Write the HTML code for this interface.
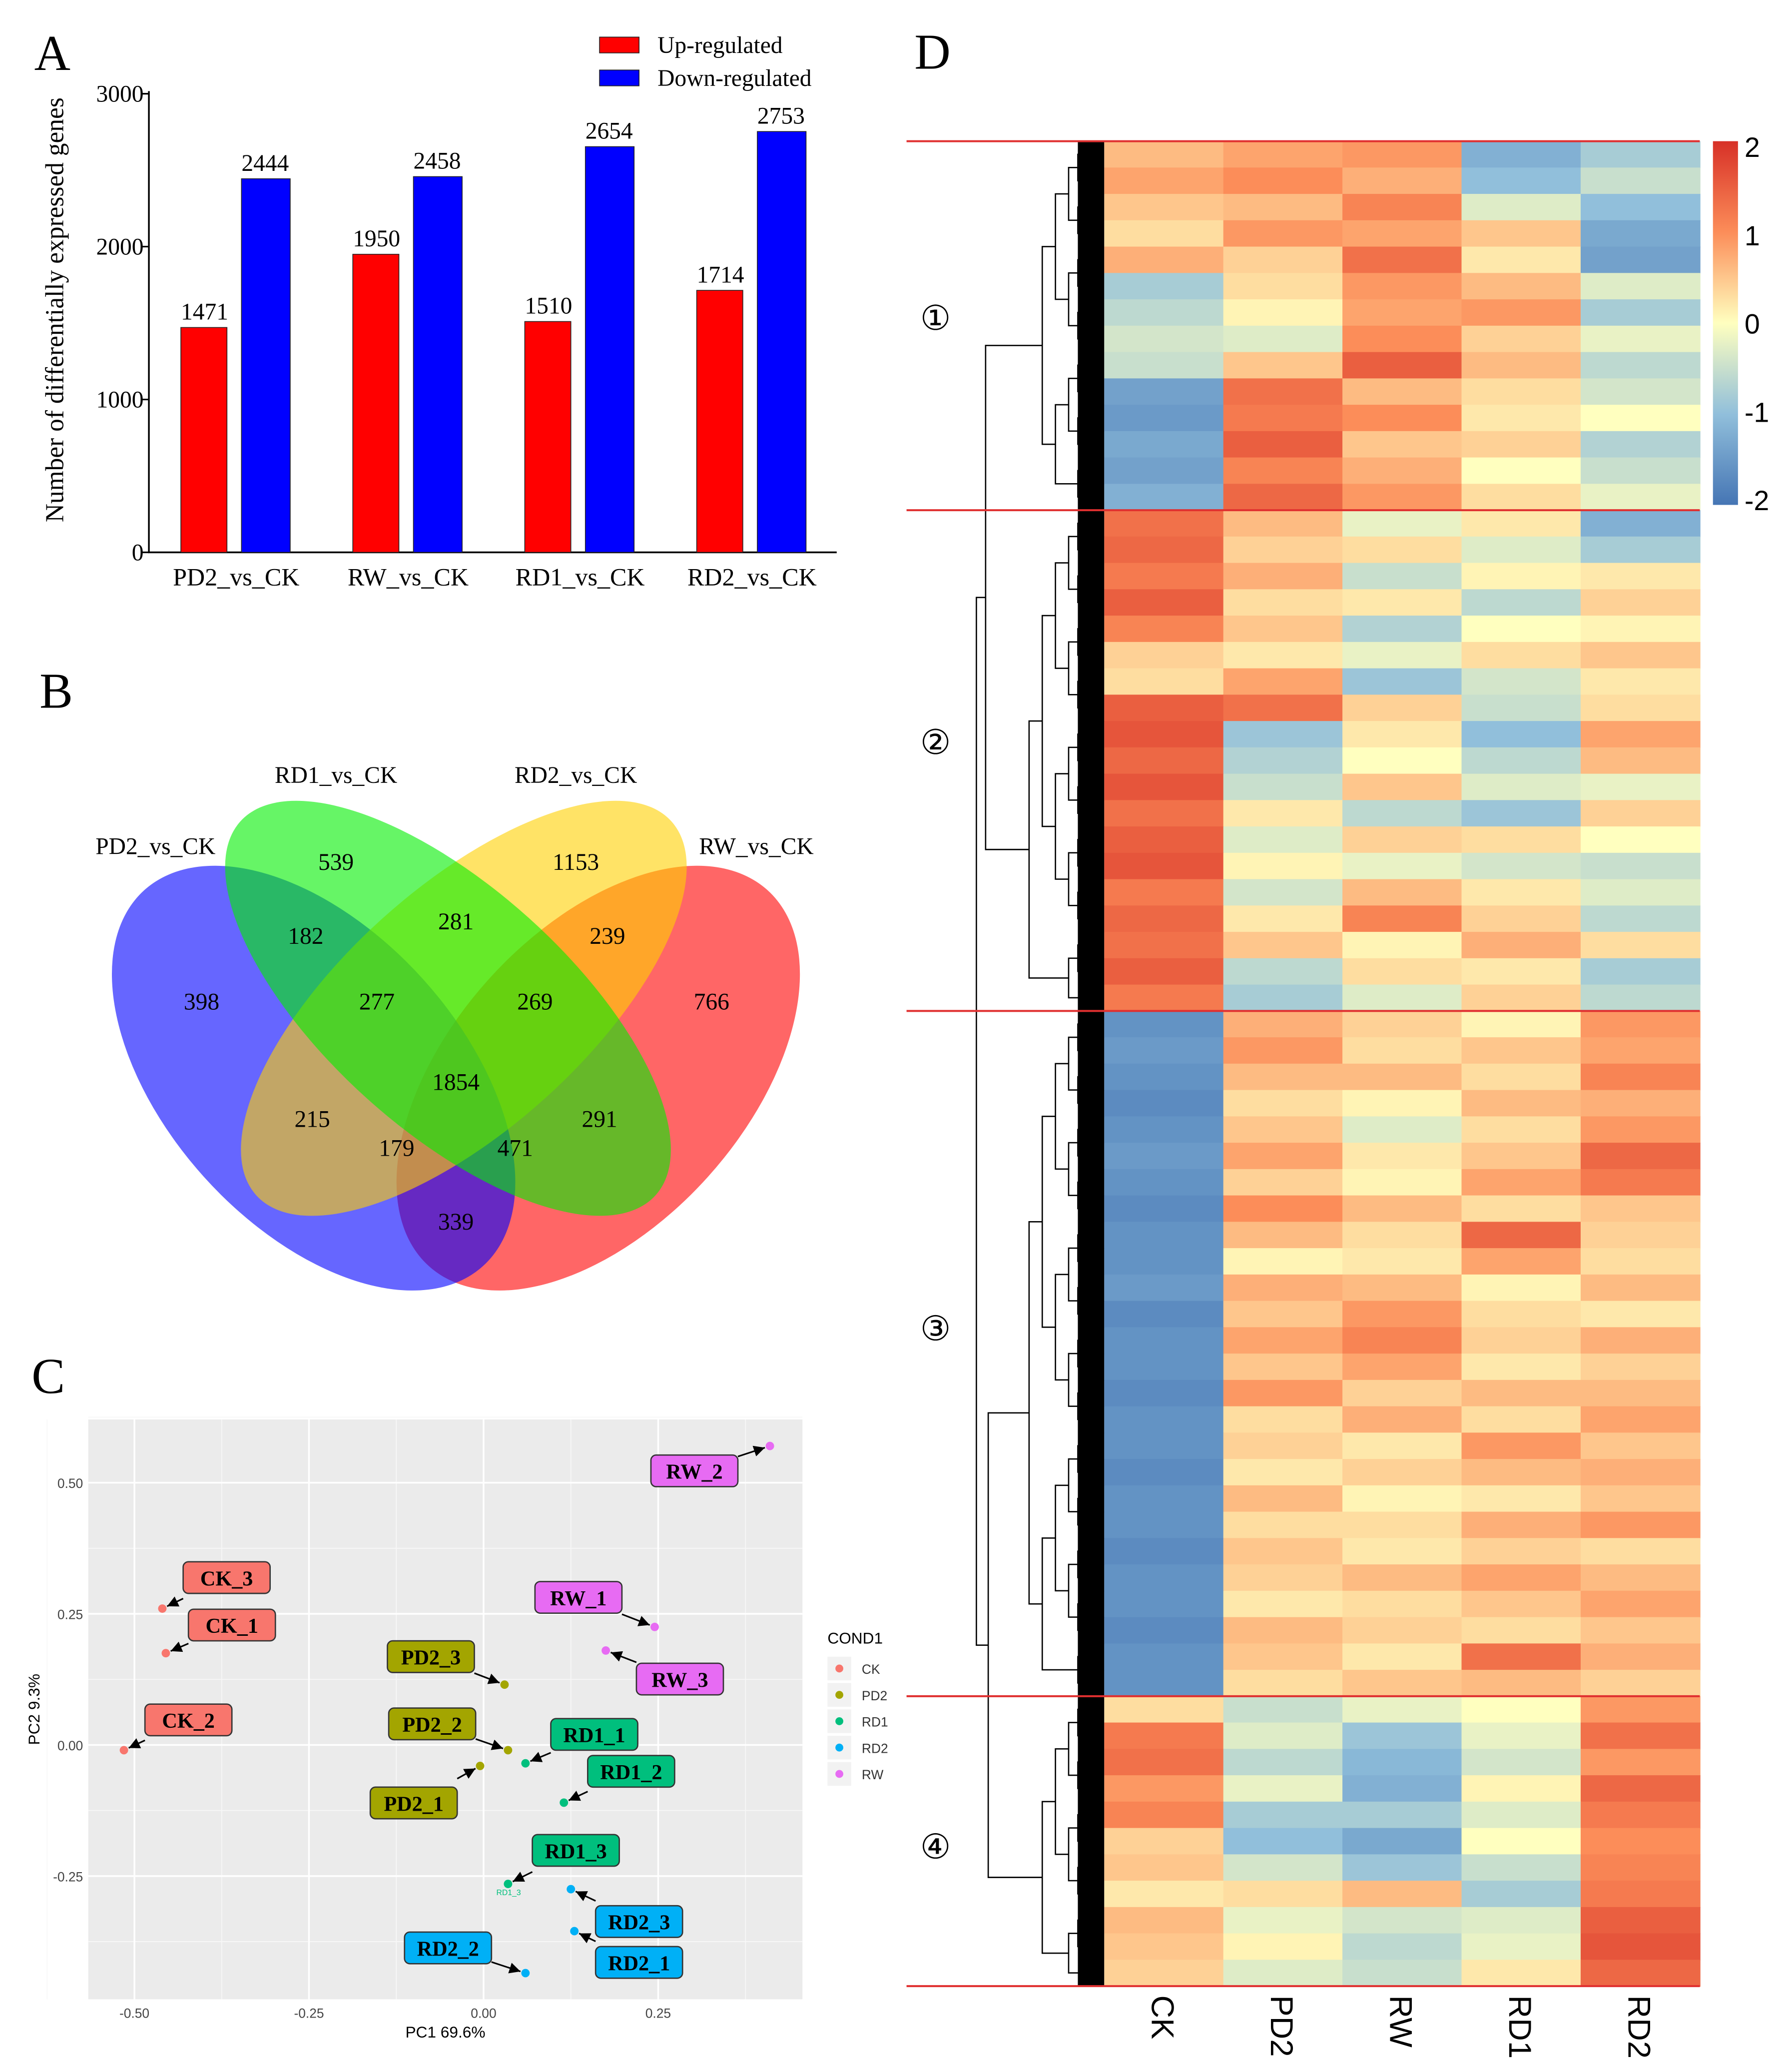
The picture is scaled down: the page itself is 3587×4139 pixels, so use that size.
<!DOCTYPE html>
<html><head><meta charset="utf-8"><style>html,body{margin:0;padding:0;background:#fff}svg{display:block}</style></head>
<body>
<svg id="fig" xmlns="http://www.w3.org/2000/svg" width="3587" height="4139" viewBox="0 0 1360 1569">
<defs><marker id="arr" viewBox="0 0 10 10" refX="10" refY="5" markerWidth="7" markerHeight="7" orient="auto-start-reverse"><path d="M0,0L10,5L0,10z" fill="#000"/></marker></defs>
<g font-family="Liberation Serif, serif">
<text x="26" y="53" font-size="38">A</text>
<text x="30" y="537" font-size="38">B</text>
<text x="24" y="1057" font-size="38">C</text>
<text x="694" y="52" font-size="38">D</text>
</g>
<g id="barA"></g>
<g id="venn"></g>
<g id="pca"></g>
<g id="heat"></g>
</svg>
<script>
const NS='http://www.w3.org/2000/svg';
function mk(p,t,a,txt){const e=document.createElementNS(NS,t);for(const k in a)e.setAttribute(k,a[k]);if(txt!==undefined)e.textContent=txt;p.appendChild(e);return e;}

// ---- Panel A data
const barCategories=['PD2_vs_CK','RW_vs_CK','RD1_vs_CK','RD2_vs_CK'];
const upValues=[1471,1950,1510,1714];
const downValues=[2444,2458,2654,2753];
const yTicksA=[0,1000,2000,3000];

// ---- Venn data
const vennSets=['PD2_vs_CK','RD1_vs_CK','RD2_vs_CK','RW_vs_CK'];
const vennCounts=[398,539,1153,766,182,281,239,277,269,1854,215,291,179,471,339];

// ---- PCA data
const pcaNames=['CK_3','CK_1','CK_2','PD2_3','PD2_2','PD2_1','RD1_1','RD1_2','RD1_3','RD2_3','RD2_1','RD2_2','RW_2','RW_1','RW_3'];
const pcaGroups=['CK','CK','CK','PD2','PD2','PD2','RD1','RD1','RD1','RD2','RD2','RD2','RW','RW','RW'];
const pc1=[-0.46,-0.455,-0.515,0.03,0.035,-0.005,0.06,0.115,0.035,0.125,0.13,0.06,0.41,0.245,0.175];
const pc2=[0.26,0.175,-0.01,0.115,-0.01,-0.04,-0.035,-0.11,-0.265,-0.275,-0.355,-0.435,0.57,0.225,0.18];
const pcaXTicks=[-0.5,-0.25,0,0.25];
const pcaYTicks=[-0.25,0,0.25,0.5];
const pcaGroupNames=['CK','PD2','RD1','RD2','RW'];

// ---- Heatmap data
const heatColumns=['CK','PD2','RW','RD1','RD2'];
const clusterLabels=['①','②','③','④'];
const clusterRowCounts=[14,19,26,11];
const heatValues=[
[0.6,0.8,0.9,-1.2,-0.8],[0.8,1.0,0.7,-1.0,-0.5],[0.5,0.6,1.1,-0.3,-1.0],[0.3,0.9,0.8,0.5,-1.3],[0.7,0.4,1.3,0.2,-1.4],
[-0.8,0.3,0.9,0.6,-0.3],[-0.6,0.1,0.8,0.9,-0.8],[-0.4,-0.3,1.0,0.4,-0.2],[-0.5,0.5,1.5,0.6,-0.6],[-1.4,1.3,0.6,0.3,-0.4],
[-1.5,1.2,1.0,0.2,0.0],[-1.3,1.5,0.5,0.4,-0.7],[-1.4,1.1,0.7,0.0,-0.5],[-1.2,1.4,0.9,0.3,-0.2],
[1.3,0.6,-0.2,0.2,-1.2],[1.4,0.4,0.3,-0.3,-0.8],[1.2,0.7,-0.5,0.1,0.2],[1.5,0.3,0.2,-0.6,0.4],[1.1,0.5,-0.7,0.0,0.1],
[0.4,0.2,-0.2,0.3,0.5],[0.3,0.8,-0.9,-0.4,0.2],[1.5,1.3,0.4,-0.5,0.3],[1.6,-0.9,0.2,-1.0,0.8],[1.4,-0.7,0.0,-0.6,0.6],
[1.6,-0.5,0.5,-0.3,-0.2],[1.3,0.2,-0.6,-0.9,0.4],[1.5,-0.3,0.4,0.3,0.0],[1.6,0.1,-0.2,-0.4,-0.5],[1.2,-0.4,0.6,0.2,-0.3],
[1.4,0.2,1.1,0.4,-0.6],[1.3,0.5,0.1,0.7,0.3],[1.5,-0.6,0.3,0.2,-0.8],[1.2,-0.8,-0.3,0.4,-0.6],
[-1.6,0.7,0.4,0.1,0.9],[-1.5,0.9,0.3,0.5,0.8],[-1.6,0.6,0.6,0.3,1.1],[-1.7,0.3,0.1,0.6,0.7],[-1.6,0.5,-0.3,0.3,0.9],
[-1.5,0.8,0.2,0.5,1.4],[-1.6,0.4,0.1,0.8,1.2],[-1.7,1.0,0.6,0.3,0.5],[-1.6,0.6,0.3,1.4,0.4],[-1.6,0.1,0.2,0.8,0.3],
[-1.5,0.7,0.6,0.1,0.6],[-1.7,0.5,0.9,0.3,0.2],[-1.6,0.8,1.1,0.4,0.7],[-1.6,0.5,0.8,0.2,0.4],[-1.7,0.9,0.4,0.6,0.6],
[-1.6,0.3,0.7,0.3,0.8],[-1.6,0.4,0.2,0.9,0.5],[-1.7,0.2,0.4,0.6,0.7],[-1.6,0.6,0.1,0.2,0.5],[-1.6,0.3,0.3,0.7,0.9],
[-1.7,0.5,0.2,0.4,0.3],[-1.6,0.4,0.6,0.8,0.6],[-1.6,0.2,0.3,0.5,0.8],[-1.7,0.6,0.4,0.3,0.5],[-1.6,0.5,0.2,1.3,0.7],[-1.6,0.3,0.5,0.6,0.4],
[0.3,-0.5,-0.2,0.0,0.9],[1.2,-0.3,-0.9,-0.2,1.3],[1.3,-0.6,-1.1,-0.4,0.9],[0.9,-0.2,-1.2,0.1,1.4],[1.1,-0.8,-0.8,-0.3,1.2],
[0.4,-1.0,-1.3,0.0,1.0],[0.5,-0.4,-0.9,-0.5,1.1],[0.2,0.3,0.6,-0.8,1.2],[0.6,-0.2,-0.4,-0.3,1.5],[0.5,0.1,-0.6,-0.2,1.6],[0.4,-0.3,-0.5,0.2,1.4]
];
const colorbarTicks=[2,1,0,-1,-2];

// ===== Panel A
(function(){
 const g=document.getElementById('barA');
 const x0=113,x1=635,y0=419,yTop=71;
 const ys=v=>y0-(v/3000)*(y0-yTop);
 const catW=(x1-x0)/barCategories.length;
 const font='Liberation Serif, serif';
 yTicksA.forEach(t=>{
  const tl=mk(g,'line',{x1:x0-6,x2:x0,y1:ys(t),y2:ys(t),stroke:'#000','stroke-width':1.2});
  
  const tx=mk(g,'text',{x:x0-4,y:ys(t)+6,'font-size':18,'text-anchor':'end','font-family':font},t);
  
 });
 const ax=mk(g,'path',{d:`M${x0},${yTop-2}V${y0}H${x1}`,fill:'none',stroke:'#000','stroke-width':1.3});
 
 const yt=mk(g,'text',{x:0,y:0,'font-size':19.5,'text-anchor':'middle','font-family':font,transform:`translate(48,235) rotate(-90)`},'Number of differentially expressed genes');
 
 barCategories.forEach((c,i)=>{
  const cx=x0+catW*i+catW/2+1;
  const r=mk(g,'rect',{x:cx-42,y:ys(upValues[i]),width:35,height:y0-ys(upValues[i]),fill:'#ff0000',stroke:'#222','stroke-width':0.6});
  
  const b=mk(g,'rect',{x:cx+4,y:ys(downValues[i]),width:37,height:y0-ys(downValues[i]),fill:'#0000ff',stroke:'#222','stroke-width':0.6});
  
  const t1=mk(g,'text',{x:cx-24,y:ys(upValues[i])-6,'font-size':18,'text-anchor':'middle','font-family':font},upValues[i]);
  
  const t2=mk(g,'text',{x:cx+22,y:ys(downValues[i])-6,'font-size':18,'text-anchor':'middle','font-family':font},downValues[i]);
  
  const xl=mk(g,'text',{x:cx,y:444,'font-size':19,'text-anchor':'middle','font-family':font},c);
  
 });
 [['Up-regulated','#ff0000',34],['Down-regulated','#0000ff',59]].forEach(([l,c,y])=>{
  const r=mk(g,'rect',{x:455,y:y-6,width:30,height:12,fill:c,stroke:'#222','stroke-width':0.6});
  
  const t=mk(g,'text',{x:499,y:y+6,'font-size':18,'font-family':font},l);
  
 });
})();

// ===== Panel B
(function(){
 const g=document.getElementById('venn');
 const font='Liberation Serif, serif';
 const ell={0:[238,818,112,192,-42,'#0000ff'],3:[454,818,112,192,42,'#ff0000'],2:[352,765,92,212,48,'#ffd000'],1:[340,765,92,212,-48,'#00ee00']};
 [3,0,2,1].forEach(i=>{const e=ell[i];
  const el=mk(g,'ellipse',{cx:e[0],cy:e[1],rx:e[2],ry:e[3],transform:`rotate(${e[4]} ${e[0]} ${e[1]})`,fill:e[5],'fill-opacity':0.6});
  
 });
 const pos=[[153,760],[255,654],[437,654],[540,760],[232,710],[346,699],[461,710],[286,760],[406,760],[346,821],[237,849],[455,849],[301,871],[391,871],[346,927]];
 vennCounts.forEach((v,i)=>{
  const t=mk(g,'text',{x:pos[i][0],y:pos[i][1]+6,'font-size':18,'text-anchor':'middle','font-family':font},v);
  
 });
 const lp=[[118,642],[255,588],[437,588],[574,642]];
 vennSets.forEach((s,i)=>{
  const t=mk(g,'text',{x:lp[i][0],y:lp[i][1]+6,'font-size':18,'text-anchor':'middle','font-family':font},s);
  
 });
})();

// ===== Panel C
(function(){
 const g=document.getElementById('pca');
 const colors={CK:'#f8766d',PD2:'#a3a500',RD1:'#00bf7d',RD2:'#00b0f6',RW:'#e76bf3'};
 const px=v=>367+v*530, py=v=>1324-v*398;
 const bg=mk(g,'rect',{x:67,y:1077,width:542,height:440,fill:'#ebebeb'});
 
 [-0.625,-0.375,-0.125,0.125,0.375].forEach(t=>{
  const m=mk(g,'line',{x1:px(t),x2:px(t),y1:1077,y2:1517,stroke:'#f7f7f7','stroke-width':0.7});
  
 });
 [-0.375,-0.125,0.125,0.375,0.625].forEach(t=>{
  const m=mk(g,'line',{x1:67,x2:609,y1:py(t),y2:py(t),stroke:'#f7f7f7','stroke-width':0.7});
  
 });
 pcaXTicks.forEach(t=>{
  const l=mk(g,'line',{x1:px(t),x2:px(t),y1:1077,y2:1517,stroke:'#fff','stroke-width':1.3});
  
  const tx=mk(g,'text',{x:px(t),y:1531,'font-size':10,'text-anchor':'middle',fill:'#444','font-family':'Liberation Sans, sans-serif'},t.toFixed(2));
  
 });
 pcaYTicks.forEach(t=>{
  const l=mk(g,'line',{x1:67,x2:609,y1:py(t),y2:py(t),stroke:'#fff','stroke-width':1.3});
  
  const tx=mk(g,'text',{x:63,y:py(t)+4,'font-size':10,'text-anchor':'end',fill:'#444','font-family':'Liberation Sans, sans-serif'},t.toFixed(2));
  
 });
 const xt=mk(g,'text',{x:338,y:1546,'font-size':12,'text-anchor':'middle','font-family':'Liberation Sans, sans-serif'},'PC1  69.6%');
 
 const yt=mk(g,'text',{x:0,y:0,'font-size':12,'text-anchor':'middle','font-family':'Liberation Sans, sans-serif',transform:'translate(30,1297) rotate(-90)'},'PC2  9.3%');
 
 const boxPos=[[172,1197],[176,1233],[143,1305],[327,1257],[328,1308],[314,1368],[451,1316],[479,1344],[437,1404],[485,1458],[485,1489],[340,1478],[527,1116],[439,1212],[516,1274]];
 pcaNames.forEach((n,i)=>{
  const x=px(pc1[i]),y=py(pc2[i]),b=boxPos[i];
  const dx=x-b[0],dy=y-b[1];
  const sx=b[0]+Math.sign(dx)*Math.min(Math.abs(dx),33);
  const sy=Math.abs(dx)>33?b[1]+dy*(33/Math.abs(dx)):b[1]+Math.sign(dy)*12;
  const len=Math.hypot(x-sx,y-sy),ex=x-(x-sx)/len*4,ey=y-(y-sy)/len*4;
  const ln=mk(g,'line',{x1:sx,y1:sy,x2:ex,y2:ey,stroke:'#000','stroke-width':1.2,'marker-end':'url(#arr)'});
  
  const p=mk(g,'circle',{cx:x,cy:y,r:3.2,fill:colors[pcaGroups[i]]});
  
  const r=mk(g,'rect',{x:b[0]-33,y:b[1]-12,width:66,height:24,rx:4,fill:colors[pcaGroups[i]],stroke:'#333','stroke-width':1});
  
  const t=mk(g,'text',{x:b[0],y:b[1]+6,'font-size':16,'font-weight':'bold','text-anchor':'middle','font-family':'Liberation Serif, serif'},n);
  
 });
 const rt=mk(g,'text',{x:386,y:1438,'font-size':6,'text-anchor':'middle',fill:'#00bf7d','font-family':'Liberation Sans, sans-serif'},'RD1_3');
 
 const lt=mk(g,'text',{x:628,y:1247,'font-size':12,'font-family':'Liberation Sans, sans-serif'},'COND1');
 
 pcaGroupNames.forEach((n,i)=>{
  const y=1266+i*20;
  const k=mk(g,'rect',{x:628,y:y-9,width:18,height:18,fill:'#f2f2f2'});
  
  const c=mk(g,'circle',{cx:637,cy:y,r:3,fill:colors[n]});
  
  const t=mk(g,'text',{x:654,y:y+4,'font-size':10,'font-family':'Liberation Sans, sans-serif',fill:'#333'},n);
  
 });
})();

// ===== Panel D
(function(){
 const g=document.getElementById('heat');
 const X0=838,X1=1290,Y0=107,Y1=1507;
 const stops=[[-2,[69,117,180]],[-1,[145,191,219]],[0,[255,255,191]],[1,[252,141,89]],[2,[215,48,39]]];
 function col(v){v=Math.max(-2,Math.min(2,v));for(let i=0;i<stops.length-1;i++){const a=stops[i],b=stops[i+1];if(v<=b[0]){const t=(v-a[0])/(b[0]-a[0]);return 'rgb('+a[1].map((c,k)=>Math.round(c+(b[1][k]-c)*t)).join(',')+')';}}return 'rgb(215,48,39)';}
 const nR=heatValues.length,rh=(Y1-Y0)/nR,cw=(X1-X0)/heatColumns.length;
 heatValues.forEach((row,r)=>row.forEach((v,c)=>{
  const e=mk(g,'rect',{x:X0+c*cw,y:Y0+r*rh,width:cw+0.5,height:rh+0.5,fill:col(v)});
  
 }));
 heatColumns.forEach((n,c)=>{
  const t=mk(g,'text',{x:0,y:0,'font-size':24,'font-family':'Liberation Sans, sans-serif',transform:`translate(${X0+c*cw+cw/2-9},1514) rotate(90)`},n);
  
 });
 const dend=mk(g,'g',{stroke:'#000','stroke-width':1,fill:'none'});
 
 const leafs=[];const nl=nR*4;for(let i=0;i<nl;i++)leafs.push({y:Y0+(i+0.5)*(Y1-Y0)/nl,x:X0-2});
 function build(nodes,x){if(nodes.length===1)return nodes[0];const next=[];for(let i=0;i<nodes.length;i+=2){if(i+1<nodes.length){const a=nodes[i],b=nodes[i+1];
   mk(dend,'path',{d:`M${a.x},${a.y}H${x}V${b.y}H${b.x}`});next.push({x:x,y:(a.y+b.y)/2});}else next.push(nodes[i]);}
   const step=x>815?7:(x>790?10:14);
   return build(next,x-step);}
 const bounds=[0];clusterRowCounts.reduce((s,v)=>{bounds.push(s+v);return s+v;},0);
 const tops=[];
 clusterRowCounts.forEach((n,k)=>{tops.push(build(leafs.slice(bounds[k]*4,bounds[k+1]*4),X0-6));});
 const dense=mk(g,'rect',{x:818,y:Y0,width:20,height:Y1-Y0,fill:'#000'});
 
 const r1=build([tops[0],tops[1]],748),r2=build([tops[2],tops[3]],750);
 mk(dend,'path',{d:`M${r1.x},${r1.y}H741V${r2.y}H${r2.x}`});
 bounds.forEach(b=>{
  const l=mk(g,'line',{x1:688,x2:X1,y1:Y0+b*rh,y2:Y0+b*rh,stroke:'#e03030','stroke-width':1.5});
  
 });
 const cy=[241,563,1008,1401];
 clusterLabels.forEach((l,i)=>{
  const t=mk(g,'text',{x:710,y:cy[i]+9,'font-size':26,'text-anchor':'middle','font-family':'Liberation Serif, DejaVu Sans, serif'},l);
  
 });
 const gd=mk(g,'linearGradient',{id:'cbg',x1:0,y1:0,x2:0,y2:1});
 colorbarTicks.forEach((v,i)=>mk(gd,'stop',{offset:i/4,'stop-color':col(v)}));
 const cb=mk(g,'rect',{x:1300,y:107,width:19,height:276,fill:'url(#cbg)'});
 
 colorbarTicks.forEach((v,i)=>{
  const y=111+i*(268/4);
  const t=mk(g,'text',{x:1324,y:y+8,'font-size':21,'font-family':'Liberation Sans, sans-serif'},v);
  
 });
})();
</script>
</body></html>
